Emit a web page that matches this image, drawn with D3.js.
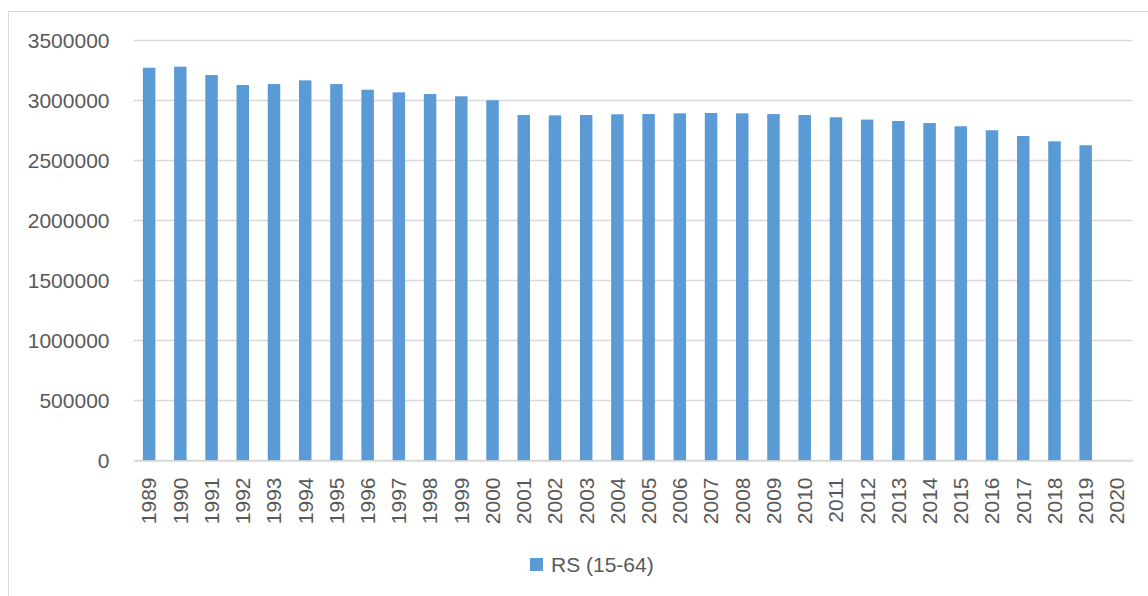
<!DOCTYPE html>
<html>
<head>
<meta charset="utf-8">
<script src="https://cdn.jsdelivr.net/npm/d3@7"></script>
<style>
  body { margin: 0; background: #fff; }
  svg { display: block; font-family: 'Liberation Sans', Arial, sans-serif; }
</style>
</head>
<body>
<div id="chart"></div>
<script>
const years = ['1989','1990','1991','1992','1993','1994','1995','1996','1997','1998','1999','2000',
  '2001','2002','2003','2004','2005','2006','2007','2008','2009','2010','2011','2012',
  '2013','2014','2015','2016','2017','2018','2019','2020']
const values = [3273000,3282000,3212000,3129000,3137000,3168000,3137000,3090000,3068000,3054000,3035000,3002000,
  2879000,2876000,2879000,2885000,2887000,2893000,2896000,2893000,2887000,2879000,2860000,2841000,
  2829000,2812000,2785000,2752000,2704000,2660000,2627000,null]
const yTicks = [0,500000,1000000,1500000,2000000,2500000,3000000,3500000]
const seriesName = 'RS (15-64)'

const Width = 1148
const Height = 596
const margin = {left: 133.5, right: 15.5, top: 40.5, bottom: 135.5}
const textColor = '#595959'
const barColor = '#5b9bd5'

const svg = d3.select('#chart')
  .append('svg')
  .attr('width', Width)
  .attr('height', Height)

// outer chart frame
svg.append('rect')
  .attr('x', 8.5).attr('y', 11.5)
  .attr('width', Width + 10).attr('height', Height + 10)
  .attr('fill', 'none')
  .attr('stroke', '#d9d9d9')
  .attr('stroke-width', 1)

const x = d3.scaleBand()
  .domain(years)
  .range([margin.left, Width - margin.right])
  .paddingInner(0.6)
  .paddingOuter(0.3)

const y = d3.scaleLinear()
  .domain([0, 3500000])
  .range([Height - margin.bottom, margin.top])

// gridlines
svg.append('g')
  .selectAll('line')
  .data(yTicks)
  .enter().append('line')
  .attr('x1', margin.left)
  .attr('x2', Width - margin.right)
  .attr('y1', d => y(d))
  .attr('y2', d => y(d))
  .attr('stroke', '#d9d9d9')
  .attr('stroke-width', 1.3)

// y axis
const yAxis = svg.append('g')
  .attr('transform', `translate(${margin.left},0)`)
  .call(d3.axisLeft(y).tickValues(yTicks).tickFormat(d3.format('d')).tickSize(0).tickPadding(24))
yAxis.select('.domain').remove()
yAxis.selectAll('text')
  .attr('fill', textColor)
  .attr('font-size', 21)
  .attr('font-family', "'Liberation Sans', Arial, sans-serif")

// bars
svg.append('g')
  .selectAll('rect')
  .data(years.map((yr, i) => ({yr, v: values[i]})).filter(d => d.v != null))
  .enter().append('rect')
  .attr('x', d => x(d.yr))
  .attr('y', d => y(d.v))
  .attr('width', x.bandwidth())
  .attr('height', d => y(0) - y(d.v))
  .attr('fill', barColor)

// x axis
const xAxis = svg.append('g')
  .attr('transform', `translate(0,${y(0)})`)
  .call(d3.axisBottom(x).tickSize(0).tickPadding(0))
xAxis.select('.domain')
  .attr('stroke', '#d9d9d9')
  .attr('stroke-width', 1.5)
xAxis.selectAll('text')
  .attr('fill', textColor)
  .attr('font-size', 21)
  .attr('font-family', "'Liberation Sans', Arial, sans-serif")
  .attr('text-anchor', 'end')
  .attr('dy', '0.35em')
  .attr('transform', 'translate(0,17) rotate(-90)')

// legend
const legend = svg.append('g')
  .attr('transform', 'translate(530,558)')
legend.append('rect')
  .attr('width', 13).attr('height', 13)
  .attr('fill', barColor)
legend.append('text')
  .attr('x', 21).attr('y', 14)
  .attr('font-size', 21)
  .attr('fill', textColor)
  .text(seriesName)
</script>
</body>
</html>
